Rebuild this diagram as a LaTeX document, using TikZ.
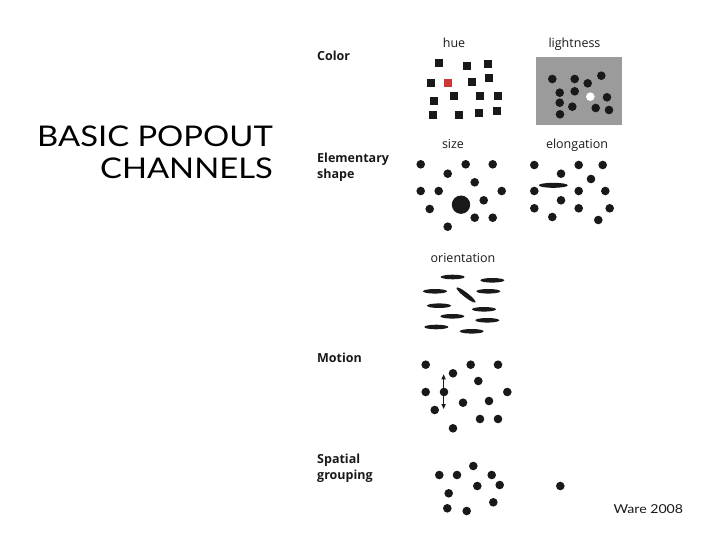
\documentclass[tikz,border=0pt]{standalone}
\usepackage{fontspec}
\setmainfont{Open Sans}
\newfontfamily\titlefont[FakeStretch=1.15]{Lato}
\usetikzlibrary{arrows.meta}
\definecolor{ink}{RGB}{25,25,25}
\definecolor{huered}{RGB}{205,55,58}
\definecolor{panelgray}{RGB}{155,155,155}
\tikzset{
  rowlabel/.style={anchor=base west,font=\bfseries\fontsize{12.5}{15}\selectfont,text=ink,inner sep=0pt},
  chanlabel/.style={anchor=base,font=\fontsize{12.5}{14}\selectfont,text=ink,inner sep=0pt},
  titletext/.style={anchor=base east,inner sep=0pt,font=\titlefont\fontsize{28.5}{30}\selectfont,text=black},
}
\newcommand{\dt}[2]{\fill[ink] (#1,#2) circle (4.3);}
\newcommand{\sqr}[2]{\fill[ink] (#1-4,#2-4) rectangle (#1+4,#2+4);}
\newcommand{\hel}[2]{\fill[ink] (#1,#2) ellipse (12 and 2.3);}
\begin{document}
\begin{tikzpicture}[x=1pt,y=-1pt]
\useasboundingbox (0,0) rectangle (720,540);
% title
\node[titletext] (t1) at (273,146.7) {BASIC POPOUT};
\node[titletext] (t2) at (273,178.5) {CHANNELS};
% row labels
\node[rowlabel] (lcolor) at (317,61) {Color};
\node[rowlabel] (lshape1) at (317,162.3) {Elementary};
\node[rowlabel] (lshape2) at (317,178.5) {shape};
\node[rowlabel] (lmotion) at (317,362.7) {Motion};
\node[rowlabel] (lspatial1) at (317,463.5) {Spatial};
\node[rowlabel] (lspatial2) at (317,479.5) {grouping};
% channel labels
\node[chanlabel] (chue) at (454,47.5) {hue};
\node[chanlabel] (clight) at (574.5,47.5) {lightness};
\node[chanlabel] (csize) at (453,148.5) {size};
\node[chanlabel] (celong) at (577,148.5) {elongation};
\node[chanlabel] (corient) at (463,262) {orientation};
\node[anchor=base west,inner sep=0pt,font=\titlefont\fontsize{12.3}{14}\selectfont,text=ink] (ware) at (613.3,513.3) {Ware 2008};
% hue
\sqr{439.3}{63.3}\sqr{467.3}{65.7}\sqr{487.7}{64.3}
\sqr{430.7}{83.3}\sqr{471.7}{82.3}\sqr{488.7}{77.7}
\sqr{434.3}{100.7}\sqr{454.3}{96}\sqr{480}{96}\sqr{497.7}{96}
\sqr{432.7}{114.7}\sqr{459}{114.7}\sqr{479.3}{113}\sqr{496.7}{111}
\fill[huered] (444.3,78.7) rectangle (452.3,86.7);
% lightness
\fill[panelgray] (536,56.7) rectangle (622,125);
\dt{552.3}{79}\dt{574.7}{79}\dt{587.7}{83.3}\dt{601.3}{75.7}
\dt{559.7}{92.7}\dt{574.7}{91.3}\dt{607}{97.3}
\dt{559.7}{102.7}\dt{572.3}{106.7}\dt{595.7}{108}\dt{609}{110}\dt{560}{114.3}
\fill[white] (590.3,96.7) circle (4.3);
% size
\dt{420.7}{164.3}\dt{447.7}{173.7}\dt{465.7}{164.3}\dt{492.7}{164.3}
\dt{474.7}{182.3}\dt{420.7}{191}\dt{438.7}{191}\dt{501.7}{191}
\dt{483.7}{200.3}\dt{429.7}{209}\dt{474.7}{217.7}\dt{492.7}{217.7}\dt{447.7}{226.7}
\fill[ink] (461,204.7) circle (9.2);
% elongation
\dt{534.3}{165}\dt{561}{173.7}\dt{578.7}{165}\dt{602.7}{165}\dt{591}{179}
\dt{534.3}{191}\dt{578.7}{191}\dt{605.3}{191}\dt{561}{200.3}
\dt{534.3}{208.3}\dt{578.7}{208.3}\dt{609.7}{208.3}\dt{552.3}{217}\dt{598.3}{220}
\fill[ink] (553.3,185.3) ellipse (14.5 and 2.5);
% orientation
\hel{452.7}{277}\hel{492.3}{280.3}\hel{435}{291.3}\hel{488.3}{291.3}
\hel{439}{305.7}\hel{484}{309.3}\hel{452.3}{316.3}\hel{487.3}{320.3}
\hel{436.3}{327}\hel{471.7}{331.3}
\fill[ink,rotate around={-38:(466,295)}] (466,295) ellipse (12 and 2.3);
% motion
\dt{425.7}{364.7}\dt{470.7}{364.7}\dt{498}{364.7}\dt{453}{373.3}\dt{478.3}{381}
\dt{425.7}{392}\dt{444}{392}\dt{507.3}{392}\dt{463}{402.7}\dt{489}{401}
\dt{434.7}{410}\dt{480}{419}\dt{498}{419}\dt{453}{428.3}
\coordinate (mtop) at (443.6,374.3);
\coordinate (mbot) at (443.6,409);
\draw[ink,line width=0.9pt,{Triangle[length=5pt,width=4.2pt]}-{Triangle[length=5pt,width=4.2pt]}] (mtop) -- (mbot);
% spatial grouping
\dt{473.3}{466}\dt{439.3}{475}\dt{457}{475}\dt{491.7}{475}\dt{477.3}{486}
\dt{499.7}{485}\dt{448.7}{493.3}\dt{493.3}{502.3}\dt{447.3}{508.3}\dt{466.7}{511}
\dt{560.3}{486}
\end{tikzpicture}
\end{document}
